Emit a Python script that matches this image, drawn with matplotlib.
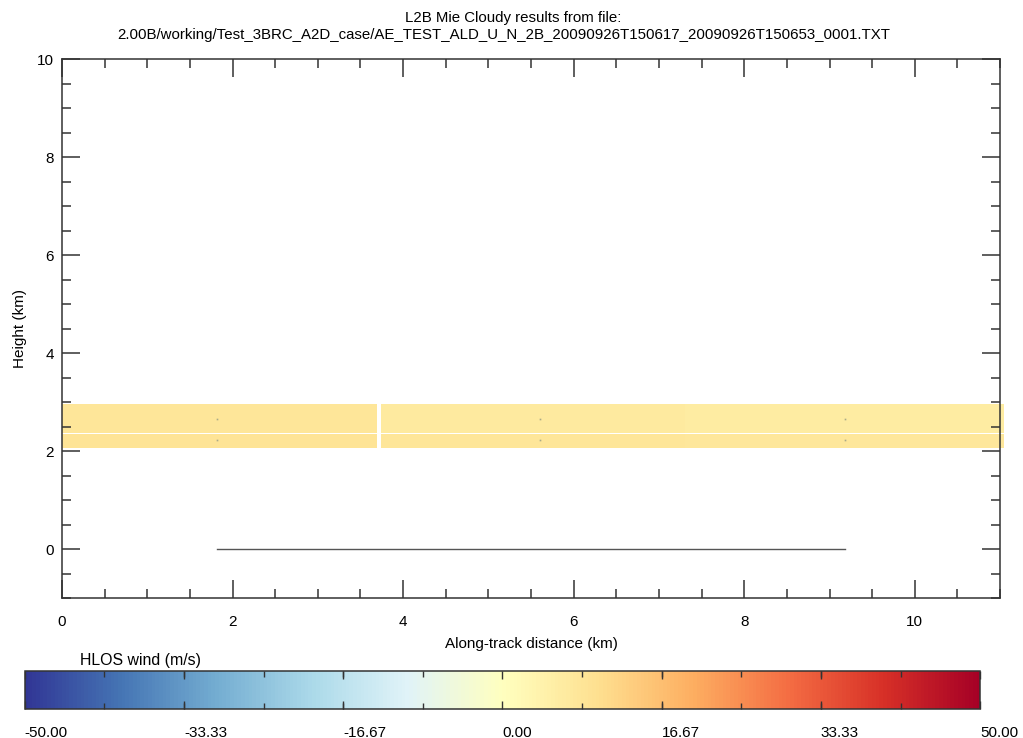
import numpy as np
import matplotlib
matplotlib.use('Agg')
import matplotlib.pyplot as plt
from matplotlib.colors import Normalize
from matplotlib.ticker import MultipleLocator, FixedLocator

plt.rcParams['font.family'] = ['Liberation Sans', 'DejaVu Sans']

# bin edges (km) of the L2B Mie cloudy results
x_edges = [0.0, 3.69, 3.745, 7.3, 11.05]
y_edges = [2.07, 2.355, 2.368, 2.95]
# HLOS wind (m/s), rows = height bins, cols = along-track bins (nan = no data)
hlos_wind = np.array([
    [8.6, np.nan, 8.2, 7.8],
    [np.nan, np.nan, np.nan, np.nan],
    [8.0, np.nan, 6.8, 6.2],
])
# bin centre points and ground track
obs_x = [1.82, 5.605, 9.18]
obs_heights = [2.215, 2.655]
ground_x = [1.82, 9.18]
ground_y = [0.0, 0.0]

cbar_ticks = [-50, -33.33, -16.67, 0, 16.67, 33.33, 50]

title1 = 'L2B Mie Cloudy results from file:'
title2 = '2.00B/working/Test_3BRC_A2D_case/AE_TEST_ALD_U_N_2B_20090926T150617_20090926T150653_0001.TXT'

fig = plt.figure(figsize=(10.23, 7.38), dpi=100)
ax = fig.add_axes([0.0606, 0.1897, 0.917, 0.7303])

norm = Normalize(vmin=-50, vmax=50)
mesh = ax.pcolormesh(x_edges, y_edges, np.ma.masked_invalid(hlos_wind),
                     cmap='RdYlBu_r', norm=norm, shading='flat')
mesh.set_clip_on(False)

for h in obs_heights:
    ax.plot(obs_x, [h] * len(obs_x), linestyle='none', marker='s',
            markersize=1.2, color='#aaaa88', markeredgewidth=0)
ax.plot(ground_x, ground_y, color='#555555', linewidth=1)

ax.set_xlim(0, 11)
ax.set_ylim(-1, 10)
ax.xaxis.set_major_locator(MultipleLocator(2))
ax.xaxis.set_minor_locator(MultipleLocator(0.5))
ax.yaxis.set_major_locator(MultipleLocator(2))
ax.yaxis.set_minor_locator(MultipleLocator(0.5))
ax.tick_params(which='both', direction='in', top=True, right=True,
               width=1.1, color='#333333', labelsize=11)
ax.tick_params(which='major', length=13)
ax.tick_params(which='minor', length=6.5)
ax.tick_params(axis='x', pad=12)
ax.tick_params(axis='y', pad=6)
for sp in ax.spines.values():
    sp.set_linewidth(1.1)
    sp.set_color('#333333')

ax.set_xlabel('Along-track distance (km)', fontsize=11, labelpad=6)
ax.set_ylabel('Height (km)', fontsize=11, labelpad=7)
fig.text(513 / 1023, 1 - 18 / 738, title1, fontsize=10.8, ha='center', va='center')
fig.text(504 / 1023, 1 - 35 / 738, title2, fontsize=10.8, ha='center', va='center')

cax = fig.add_axes([0.0241, 0.0393, 0.9341, 0.0515])
cb = fig.colorbar(mesh, cax=cax, orientation='horizontal')
cb.set_ticks(cbar_ticks)
cax.set_xticklabels(['%.2f' % t for t in cbar_ticks], ha='left')
cax.xaxis.set_minor_locator(FixedLocator(np.linspace(-50, 50, 13)))
cax.tick_params(which='both', direction='in', top=True, bottom=True,
                width=1, color='#333333', labelsize=11, pad=12)
cax.tick_params(which='major', length=6)
cax.tick_params(which='minor', length=4)
cb.outline.set_linewidth(1.1)
cb.outline.set_edgecolor('#333333')
fig.text(80 / 1023, 1 - 660 / 738, 'HLOS wind (m/s)', fontsize=11.4, va='center')

fig.savefig('out.png', dpi=100)
